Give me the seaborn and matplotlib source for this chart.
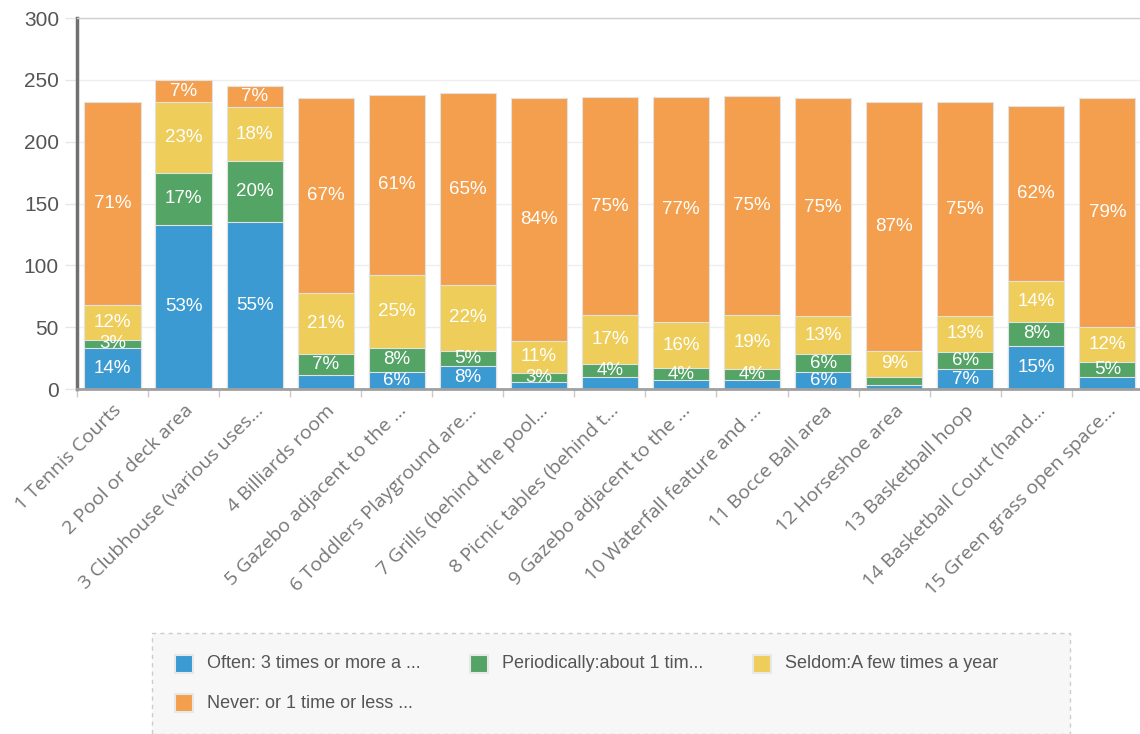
import numpy as np
import matplotlib
matplotlib.use("Agg")
import matplotlib.pyplot as plt
from matplotlib.patches import Rectangle
import seaborn as sns

facilities = ["1 Tennis Courts", "2 Pool or deck area", "3 Clubhouse (various uses...",
              "4 Billiards room", "5 Gazebo adjacent to the ...", "6 Toddlers Playground are...",
              "7 Grills (behind the pool...", "8 Picnic tables (behind t...",
              "9 Gazebo adjacent to the ...", "10 Waterfall feature and ...",
              "11 Bocce Ball area", "12 Horseshoe area", "13 Basketball hoop",
              "14 Basketball Court (hand...", "15 Green grass open space..."]

series_names = ["Often: 3 times or more a ...", "Periodically:about 1 tim...",
                "Seldom:A few times a year", "Never: or 1 time or less ..."]
series_colors = ["#3b9ad1", "#53a465", "#eecd5a", "#f49f4d"]

# response counts per facility
often = [33, 133, 135, 11, 14, 19, 6, 10, 7, 7, 14, 3, 16, 35, 10]
periodic = [7, 42, 49, 17, 19, 12, 7, 10, 10, 9, 14, 7, 14, 19, 12]
seldom = [28, 57, 44, 50, 59, 53, 26, 40, 37, 44, 31, 21, 29, 33, 28]
never = [164, 18, 17, 157, 146, 155, 196, 176, 182, 177, 176, 201, 173, 142, 185]

# percentage labels as shown on the chart (None = hidden)
often_pct = [14, 53, 55, None, 6, 8, None, None, None, None, 6, None, 7, 15, None]
periodic_pct = [3, 17, 20, 7, 8, 5, 3, 4, 4, 4, 6, None, 6, 8, 5]
seldom_pct = [12, 23, 18, 21, 25, 22, 11, 17, 16, 19, 13, 9, 13, 14, 12]
never_pct = [71, 7, 7, 67, 61, 65, 84, 75, 77, 75, 75, 87, 75, 62, 79]

y_ticks = [0, 50, 100, 150, 200, 250, 300]

sns.set_theme(style="white")
plt.rcParams["font.family"] = ["Liberation Sans", "DejaVu Sans"]

fig = plt.figure(figsize=(11.4, 7.34), dpi=100)
ax = fig.add_axes([0.0675, 0.470, 0.935, 0.5054])

values = np.array([often, periodic, seldom, never])
cum = np.cumsum(values, axis=0)

# draw the stack from the top layer down, each bar covering the ones above it
for i in [3, 2, 1, 0]:
    sns.barplot(x=facilities, y=cum[i], color=series_colors[i], saturation=1,
                width=0.79, edgecolor="#e2e2e2", linewidth=0.8, errorbar=None, ax=ax)

for i, pcts in enumerate([often_pct, periodic_pct, seldom_pct, never_pct]):
    for j, p in enumerate(pcts):
        if p is None:
            continue
        ax.text(j, cum[i][j] - values[i][j] / 2, f"{p}%", color="white",
                fontsize=13.5, ha="center", va="center")

ax.set_xlim(-0.5, 14.5)
ax.set_ylim(0, 300)
ax.set_yticks(y_ticks)
ax.set_yticklabels([str(t) for t in y_ticks], color="#555555", fontsize=15)
ax.set_xticks(range(len(facilities)))
ax.set_xticklabels(facilities, rotation=45, ha="right", rotation_mode="anchor",
                   color="#777777", fontsize=14, family=["Open Sans", "DejaVu Sans"])
ax.set_xticks(np.arange(-0.5, 15, 1), minor=True)
ax.tick_params(axis="x", which="major", length=0, pad=9)
ax.tick_params(axis="x", which="minor", length=6, color="#c8c8c8", width=1, bottom=True)
ax.tick_params(axis="y", length=9, color="#e6e6e6", width=1, left=True, pad=4)
ax.set_xlabel("")
ax.set_ylabel("")

ax.yaxis.grid(True, color="#eeeeee", linewidth=1)
ax.set_axisbelow(True)
ax.spines["left"].set_color("#707070")
ax.spines["left"].set_linewidth(2.5)
ax.spines["bottom"].set_color("#a0a0a0")
ax.spines["bottom"].set_linewidth(2)
ax.spines["top"].set_color("#cfcfcf")
ax.spines["top"].set_linewidth(1)
ax.spines["right"].set_visible(False)

# legend box
W, H = 1140, 734
fig.patches.append(Rectangle((152 / W, 0), (1070 - 152) / W, (734 - 633) / H,
                             transform=fig.transFigure, facecolor="#f7f7f7",
                             edgecolor="#cccccc", linestyle=(0, (3, 3)), linewidth=1))
legend_pos = [(175, 664), (470, 664), (753, 664), (175, 703)]
for (lx, ly), name, col in zip(legend_pos, series_names, series_colors):
    fig.patches.append(Rectangle((lx / W, 1 - (ly + 9) / H), 18 / W, 18 / H,
                                 transform=fig.transFigure, facecolor=col,
                                 edgecolor="#e8e8e8", linewidth=1.5))
    fig.text((lx + 32) / W, 1 - ly / H, name, color="#555555", fontsize=13,
             va="center", ha="left")

fig.savefig("out.png", dpi=100)
